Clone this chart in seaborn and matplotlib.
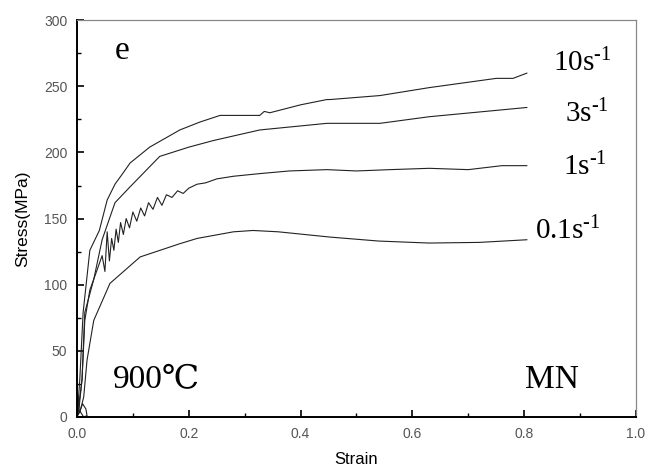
import pandas as pd
import numpy as np
import matplotlib
matplotlib.use('Agg')
import matplotlib.pyplot as plt
import seaborn as sns

# stress-strain curves (strain, stress in MPa)
strain_10 = [0.000, 0.002, 0.005, 0.011, 0.023, 0.040, 0.054, 0.068, 0.080, 0.095, 0.130,
             0.184, 0.220, 0.256, 0.300, 0.327, 0.335, 0.345, 0.400, 0.447, 0.453, 0.542,
             0.630, 0.750, 0.780, 0.805]
stress_10 = [0, 10, 28, 79, 126, 141, 164, 176, 183, 192, 204,
             217, 223, 228, 228, 228, 231, 230, 236, 240, 240, 243,
             249, 256, 256, 260]

strain_3 = [0.000, 0.003, 0.009, 0.014, 0.030, 0.045, 0.068, 0.095, 0.148, 0.200, 0.244,
            0.327, 0.447, 0.542, 0.630, 0.805]
stress_3 = [0, 8, 28, 79, 104, 134, 162, 174, 197, 204, 209,
            217, 222, 222, 227, 234]

strain_1 = [0.000, 0.004, 0.009, 0.014, 0.023, 0.035, 0.045, 0.050, 0.054, 0.058, 0.062,
            0.066, 0.070, 0.074, 0.078, 0.083, 0.088, 0.094, 0.100, 0.107, 0.114, 0.121,
            0.128, 0.136, 0.144, 0.152, 0.160, 0.170, 0.180, 0.190, 0.200, 0.215, 0.230,
            0.250, 0.280, 0.327, 0.380, 0.447, 0.500, 0.560, 0.630, 0.700, 0.760, 0.805]
stress_1 = [0, 8, 28, 73, 96, 110, 122, 110, 140, 118, 135,
            126, 142, 132, 147, 138, 150, 143, 155, 148, 158, 152,
            162, 157, 166, 160, 168, 166, 171, 169, 173, 176, 177,
            180, 182, 184, 186, 187, 186, 187, 188, 187, 190, 190]

strain_01 = [0.000, 0.006, 0.012, 0.018, 0.030, 0.059, 0.113, 0.184, 0.215, 0.280, 0.315,
             0.360, 0.453, 0.540, 0.630, 0.720, 0.805]
stress_01 = [0, 5, 15, 43, 73, 101, 121, 131, 135, 140, 141,
             140, 136, 133, 131.5, 132, 134]

# small scribble at the origin (machine preload)
strain_pre = [0.000, 0.001, 0.002, 0.003, 0.004, 0.010, 0.016, 0.018, 0.012, 0.006]
stress_pre = [0, 17, 2, 15, 3, 10, 6, 1, 0, 4]

rate_labels = [r'10s$^{\text{-}1}$', r'3s$^{\text{-}1}$', r'1s$^{\text{-}1}$', r'0.1s$^{\text{-}1}$']
label_x = [0.852, 0.873, 0.869, 0.819]
label_y = [261, 223, 183, 134]

sns.set_style('ticks')
plt.rcParams['font.family'] = ['Liberation Sans', 'DejaVu Sans']
plt.rcParams['mathtext.fontset'] = 'custom'
plt.rcParams['mathtext.rm'] = 'Liberation Serif'
plt.rcParams['mathtext.it'] = 'Liberation Serif'

fig = plt.figure(figsize=(6.49, 4.69), dpi=100)
ax = fig.add_axes([0.1186, 0.1109, 0.8614, 0.8461])

curves = [(strain_10, stress_10), (strain_3, stress_3), (strain_1, stress_1),
          (strain_01, stress_01), (strain_pre, stress_pre)]
for xs, ys in curves:
    df = pd.DataFrame({'Strain': xs, 'Stress': ys})
    sns.lineplot(data=df, x='Strain', y='Stress', sort=False, estimator=None,
                 color='#222222', linewidth=0.8, ax=ax)

ax.set_xlim(0, 1.0)
ax.set_ylim(0, 300)
ax.set_xticks(np.arange(0, 1.01, 0.2))
ax.set_xticks(np.arange(0, 1.01, 0.1), minor=True)
ax.set_yticks(np.arange(0, 301, 50))
ax.set_yticks(np.arange(0, 301, 25), minor=True)
ax.set_xticklabels(['0.0', '0.2', '0.4', '0.6', '0.8', '1.0'])
ax.tick_params(which='major', direction='in', length=5, width=1.2, color='black',
               labelsize=10, labelcolor='#555555', pad=7)
ax.tick_params(which='minor', direction='in', length=3, width=1.0, color='black')
ax.tick_params(top=False, right=False, which='both')

ax.set_xlabel('Strain', fontsize=12, labelpad=8, color='black')
ax.set_ylabel('Stress(MPa)', fontsize=12.5, labelpad=10, color='black')

for side in ['left', 'bottom']:
    ax.spines[side].set_color('black')
    ax.spines[side].set_linewidth(1.4)
for side in ['top', 'right']:
    ax.spines[side].set_color('#888888')
    ax.spines[side].set_linewidth(0.9)

serif = ['Liberation Serif', 'DejaVu Serif', 'Noto Sans CJK SC']
for lab, lx, ly in zip(rate_labels, label_x, label_y):
    ax.text(lx, ly, lab, fontsize=21, family=serif, color='black', ha='left', va='baseline')

ax.text(0.068, 271, 'e', fontsize=24, family=serif, color='black', ha='left', va='baseline')
ax.text(0.064, 22, '900℃', fontsize=24, family=serif, color='black', ha='left', va='baseline')
ax.text(0.801, 22, 'MN', fontsize=24, family=serif, color='black', ha='left', va='baseline')

plt.savefig('out.png', dpi=100)
